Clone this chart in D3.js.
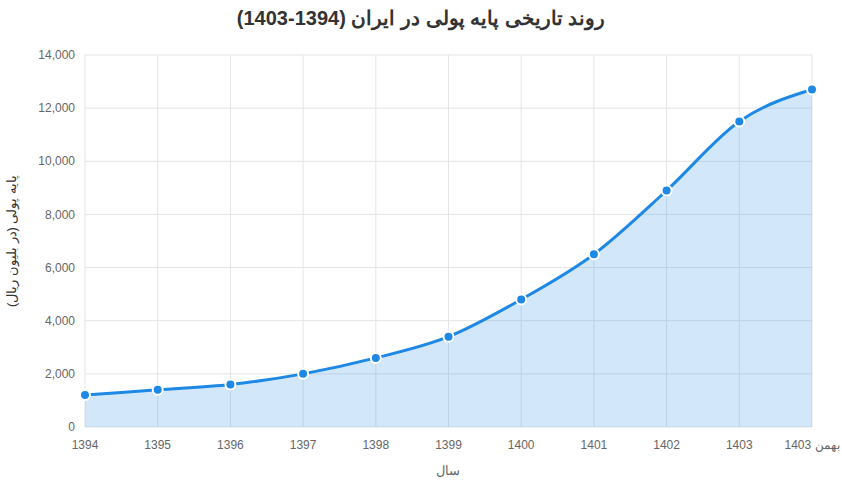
<!DOCTYPE html>
<html><head><meta charset="utf-8">
<script src="https://cdn.jsdelivr.net/npm/d3@7"></script>
<style>body{margin:0;background:#fff;font-family:"Liberation Sans",Arial,sans-serif}</style>
</head><body><div id="chart"></div>
<script>
// data
let labels = ["1394","1395","1396","1397","1398","1399","1400","1401","1402","1403","بهمن 1403"];
let values = [1200,1400,1600,2000,2600,3400,4800,6500,8900,11500,12700];
let yTicks = d3.range(0, 14001, 2000);

let W = 842, H = 488;
let margin = { top: 55, right: 30, bottom: 61, left: 85 };
let width = 812 - margin.left, height = 427 - margin.top;

let svg = d3.select("#chart").append("svg").attr("width", W).attr("height", H);
let g = svg.append("g").attr("transform", `translate(${margin.left},${margin.top})`);

let x = d3.scalePoint().domain(labels).range([0, width]);
let y = d3.scaleLinear().domain([0, 14000]).range([height, 0]);

// grid
g.selectAll(".gy").data(yTicks).join("line")
  .attr("x1", 0).attr("x2", width).attr("y1", d => y(d)).attr("y2", d => y(d))
  .attr("stroke", "#e5e5e5");
g.selectAll(".gx").data(labels).join("line")
  .attr("x1", d => x(d)).attr("x2", d => x(d)).attr("y1", 0).attr("y2", height)
  .attr("stroke", "#e5e5e5");

// axes labels
g.selectAll(".yl").data(yTicks).join("text")
  .attr("x", -10).attr("y", d => y(d)).attr("dy", "0.35em")
  .attr("text-anchor", "end").attr("font-size", 12).attr("fill", "#666")
  .text(d => d3.format(",")(d));
g.selectAll(".xl").data(labels).join("text")
  .attr("x", d => x(d)).attr("y", height + 22)
  .attr("text-anchor", "middle").attr("font-size", 12).attr("fill", "#666")
  .text(d => d);

// area + line
let pts = labels.map((l, i) => [x(l), y(values[i])]);
g.append("path").datum(pts)
  .attr("d", d3.area().x(d => d[0]).y0(height).y1(d => d[1]).curve(d3.curveMonotoneX))
  .attr("fill", "rgba(30,136,229,0.2)");
g.append("path").datum(pts)
  .attr("d", d3.line().curve(d3.curveMonotoneX))
  .attr("fill", "none").attr("stroke", "#1e88e5").attr("stroke-width", 3);
g.selectAll("circle").data(pts).join("circle")
  .attr("cx", d => d[0]).attr("cy", d => d[1]).attr("r", 5)
  .attr("fill", "#1e88e5").attr("stroke", "#fff").attr("stroke-width", 2);

// titles
svg.append("text").attr("x", W / 2).attr("y", 25).attr("text-anchor", "middle")
  .attr("font-size", 20).attr("font-weight", "bold").attr("fill", "#333")
  .text("روند تاریخی پایه پولی در ایران (1394-1403)");
svg.append("text").attr("x", 448).attr("y", 475).attr("text-anchor", "middle")
  .attr("font-size", 13).attr("fill", "#666").text("سال");
svg.append("text").attr("transform", "translate(16,241) rotate(-90)")
  .attr("text-anchor", "middle").attr("font-size", 13).attr("fill", "#333")
  .text("پایه پولی (در بلیون ریال)");
</script></body></html>
